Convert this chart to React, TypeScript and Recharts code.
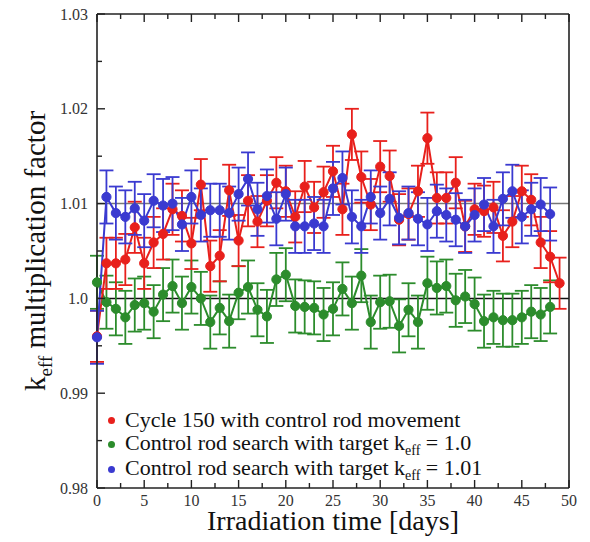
import React from 'react'
import { ComposedChart, Line, ErrorBar, XAxis, YAxis, ReferenceLine, Legend } from 'recharts'

// irradiation time [days]
const days = [
  0, 1, 2, 3, 4, 5, 6, 7, 8, 9, 10, 11, 12, 13, 14, 15, 16, 17, 18, 19, 20, 21, 22, 23, 24,
  25, 26, 27, 28, 29, 30, 31, 32, 33, 34, 35, 36, 37, 38, 39, 40, 41, 42, 43, 44, 45, 46, 47, 48, 49,
]

// Cycle 150 with control rod movement
const cycle150 = [
  0.996, 1.0037, 1.0037, 1.0041, 1.0075, 1.0037, 1.0059, 1.0068, 1.0094, 1.0087,
  1.0058, 1.012, 1.0034, 1.0045, 1.0114, 1.0061, 1.0103, 1.0081, 1.0103, 1.0122,
  1.0113, 1.0086, 1.0118, 1.0096, 1.0112, 1.0134, 1.0094, 1.0173, 1.0128, 1.0099,
  1.0139, 1.0129, 1.0083, 1.0089, 1.0113, 1.0169, 1.0106, 1.0106, 1.0122, 1.0076,
  1.0094, 1.0092, 1.0096, 1.0066, 1.0081, 1.0113, 1.0104, 1.0059, 1.0044, 1.0016,
]

// control rod search, target keff = 1.0
const target100 = [
  1.0017, 0.9996, 0.9989, 0.998, 0.9993, 0.9995, 0.9986, 1.0004, 1.0013, 0.9995,
  1.0012, 1.0, 0.9975, 0.999, 0.9976, 1.0006, 1.0012, 0.9988, 0.9981, 1.002,
  1.0025, 0.9992, 0.9991, 0.999, 0.9983, 0.9989, 1.001, 0.9995, 1.0024, 0.9975,
  0.9996, 0.9997, 0.9971, 0.9988, 0.9975, 1.0016, 1.0011, 1.0013, 0.9998, 1.0002,
  0.9994, 0.9976, 0.998, 0.9977, 0.9977, 0.998, 0.9986, 0.9983, 0.9991,
]

// control rod search, target keff = 1.01
const target101 = [
  0.9959, 1.0107, 1.009, 1.0086, 1.0095, 1.0082, 1.0103, 1.0098, 1.01, 1.0078,
  1.0107, 1.0088, 1.0093, 1.0093, 1.009, 1.011, 1.0126, 1.0094, 1.0108, 1.0084,
  1.011, 1.0076, 1.0076, 1.0079, 1.0076, 1.0116, 1.0127, 1.0086, 1.0076, 1.0107,
  1.009, 1.0105, 1.0085, 1.009, 1.0084, 1.0078, 1.0092, 1.0088, 1.0083, 1.0076,
  1.0088, 1.0099, 1.0076, 1.0105, 1.0113, 1.0086, 1.0094, 1.0099, 1.0089,
]

// statistical uncertainty (1 sigma) of each series
const cycle150Err = 0.0027
const target100Err = 0.0028
const target101Err = 0.0028

const xTicks = [0, 2.5, 5, 7.5, 10, 12.5, 15, 17.5, 20, 22.5, 25, 27.5, 30, 32.5, 35, 37.5, 40, 42.5, 45, 47.5, 50]
const yTicks = [0.98, 0.985, 0.99, 0.995, 1.0, 1.005, 1.01, 1.015, 1.02, 1.025, 1.03]

const RED = '#e8201c'
const GREEN = '#2c8c2c'
const BLUE = '#3a3ad0'
const SERIF = '"Liberation Serif", "Times New Roman", serif'

const data = days.map((d, i) => ({
  day: d,
  red: cycle150[i],
  redErr: cycle150[i] !== undefined ? cycle150Err : undefined,
  green: target100[i],
  greenErr: target100[i] !== undefined ? target100Err : undefined,
  blue: target101[i],
  blueErr: target101[i] !== undefined ? target101Err : undefined,
}))

const legendItems = [
  { key: 'red', color: RED, label: 'Cycle 150 with control rod movement', keff: '' },
  { key: 'green', color: GREEN, label: 'Control rod search with target ', keff: ' = 1.0' },
  { key: 'blue', color: BLUE, label: 'Control rod search with target ', keff: ' = 1.01' },
]

const isMajorY = (v: number) => Math.abs(v * 100 - Math.round(v * 100)) < 1e-6
const isMajorX = (v: number) => v % 5 === 0
const fmtY = (v: number) => (v === 1 ? '1.0' : v.toFixed(2))

const TICK_M = 9

const LeftTick = (props: any) => {
  const { x, y, payload } = props
  const major = isMajorY(payload.value)
  const ax = x + TICK_M
  return (
    <g>
      <line x1={ax} y1={y} x2={ax + (major ? 8 : 5)} y2={y} stroke="#222" strokeWidth={1.4} />
      {major && (
        <text x={x} y={y} dy="0.35em" textAnchor="end" fontFamily={SERIF} fontSize={16} fill="#333">
          {fmtY(payload.value)}
        </text>
      )}
    </g>
  )
}

const RightTick = (props: any) => {
  const { x, y, payload } = props
  const major = isMajorY(payload.value)
  return <line x1={x} y1={y} x2={x - (major ? 8 : 5)} y2={y} stroke="#222" strokeWidth={1.4} />
}

const BottomTick = (props: any) => {
  const { x, y, payload } = props
  const major = isMajorX(payload.value)
  const ay = y - TICK_M
  return (
    <g>
      <line x1={x} y1={ay} x2={x} y2={ay - (major ? 8 : 5)} stroke="#222" strokeWidth={1.4} />
      {major && (
        <text x={x} y={ay + 7} dy="0.71em" textAnchor="middle" fontFamily={SERIF} fontSize={16} fill="#333">
          {payload.value}
        </text>
      )}
    </g>
  )
}

const TopTick = (props: any) => {
  const { x, y, payload } = props
  const major = isMajorX(payload.value)
  return <line x1={x} y1={y} x2={x} y2={y + (major ? 8 : 5)} stroke="#222" strokeWidth={1.4} />
}

const YTitle = (props: any) => {
  const { viewBox } = props
  const cx = viewBox.x + 37
  const cy = viewBox.y + viewBox.height / 2
  return (
    <text
      x={cx}
      y={cy}
      transform={`rotate(-90 ${cx} ${cy})`}
      textAnchor="middle"
      fontFamily={SERIF}
      fontSize={29}
      fill="#111"
    >
      k<tspan fontSize={19} dy={7}>eff</tspan>
      <tspan dy={-7}> multiplication factor</tspan>
    </text>
  )
}

const XTitle = (props: any) => {
  const { viewBox } = props
  return (
    <text
      x={viewBox.x + viewBox.width / 2}
      y={viewBox.y + 42}
      textAnchor="middle"
      fontFamily={SERIF}
      fontSize={28}
      fill="#111"
    >
      Irradiation time [days]
    </text>
  )
}

const renderLegend = () => (
  <div style={{ fontFamily: SERIF, fontSize: 22, color: '#111' }}>
    {legendItems.map((it) => (
      <div
        key={it.key}
        style={{ display: 'flex', alignItems: 'center', whiteSpace: 'nowrap', height: 24.5, lineHeight: '24.5px' }}
      >
        <span
          style={{
            display: 'inline-block',
            width: 7,
            height: 7,
            borderRadius: '50%',
            background: it.color,
            marginRight: 10,
            flexShrink: 0,
          }}
        />
        <span>
          {it.label}
          {it.keff && (
            <>
              k<span style={{ fontSize: 14, position: 'relative', top: 5 }}>eff</span>
              {it.keff}
            </>
          )}
        </span>
      </div>
    ))}
  </div>
)

export default function App() {
  return (
    <div style={{ position: 'relative', top: -8, width: 582, height: 542 }}>
      <ComposedChart width={582} height={542} data={data} margin={{ top: 8, right: 0, bottom: 0, left: 0 }}>
        <XAxis
          xAxisId="bottom"
          dataKey="day"
          type="number"
          domain={[0, 50]}
          ticks={xTicks}
          orientation="bottom"
          height={54}
          tickSize={0}
          tickMargin={TICK_M}
          tickLine={false}
          axisLine={{ stroke: '#222', strokeWidth: 1.6 }}
          tick={<BottomTick />}
          interval={0}
          label={<XTitle />}
        />
        <XAxis
          xAxisId="top"
          dataKey="day"
          type="number"
          domain={[0, 50]}
          ticks={xTicks}
          orientation="top"
          height={6}
          tickSize={0}
          tickMargin={0}
          tickLine={false}
          axisLine={{ stroke: '#222', strokeWidth: 1.6 }}
          tick={<TopTick />}
          interval={0}
        />
        <YAxis
          yAxisId="left"
          type="number"
          domain={[0.98, 1.03]}
          ticks={yTicks}
          width={89}
          tickSize={0}
          tickMargin={TICK_M}
          tickLine={false}
          axisLine={{ stroke: '#222', strokeWidth: 1.6 }}
          tick={<LeftTick />}
          interval={0}
          label={<YTitle />}
        />
        <YAxis
          yAxisId="right"
          orientation="right"
          type="number"
          domain={[0.98, 1.03]}
          ticks={yTicks}
          width={21}
          tickSize={0}
          tickMargin={0}
          tickLine={false}
          axisLine={{ stroke: '#222', strokeWidth: 1.6 }}
          tick={<RightTick />}
          interval={0}
        />
        <ReferenceLine xAxisId="bottom" yAxisId="left" y={1.01} stroke="#777" strokeWidth={1.5} />
        <ReferenceLine xAxisId="bottom" yAxisId="left" y={1.0} stroke="#111" strokeWidth={1.5} />
        <Legend
          layout="vertical"
          align="center"
          verticalAlign="middle"
          content={renderLegend}
          wrapperStyle={{ left: 100, top: 408, width: 440 }}
        />
        <Line
          xAxisId="bottom"
          yAxisId="left"
          dataKey="green"
          name="Control rod search with target keff = 1.0"
          stroke={GREEN}
          strokeWidth={2}
          dot={{ r: 4.6, fill: GREEN, stroke: GREEN, strokeWidth: 1 }}
          isAnimationActive={false}
        >
          <ErrorBar dataKey="greenErr" direction="y" width={7} stroke={GREEN} strokeWidth={1.8} isAnimationActive={false} />
        </Line>
        <Line
          xAxisId="bottom"
          yAxisId="left"
          dataKey="red"
          name="Cycle 150 with control rod movement"
          stroke={RED}
          strokeWidth={2}
          dot={{ r: 4.6, fill: RED, stroke: RED, strokeWidth: 1 }}
          isAnimationActive={false}
        >
          <ErrorBar dataKey="redErr" direction="y" width={7} stroke={RED} strokeWidth={1.8} isAnimationActive={false} />
        </Line>
        <Line
          xAxisId="bottom"
          yAxisId="left"
          dataKey="blue"
          name="Control rod search with target keff = 1.01"
          stroke={BLUE}
          strokeWidth={2}
          dot={{ r: 4.6, fill: BLUE, stroke: BLUE, strokeWidth: 1 }}
          isAnimationActive={false}
        >
          <ErrorBar dataKey="blueErr" direction="y" width={7} stroke={BLUE} strokeWidth={1.8} isAnimationActive={false} />
        </Line>
      </ComposedChart>
    </div>
  )
}
